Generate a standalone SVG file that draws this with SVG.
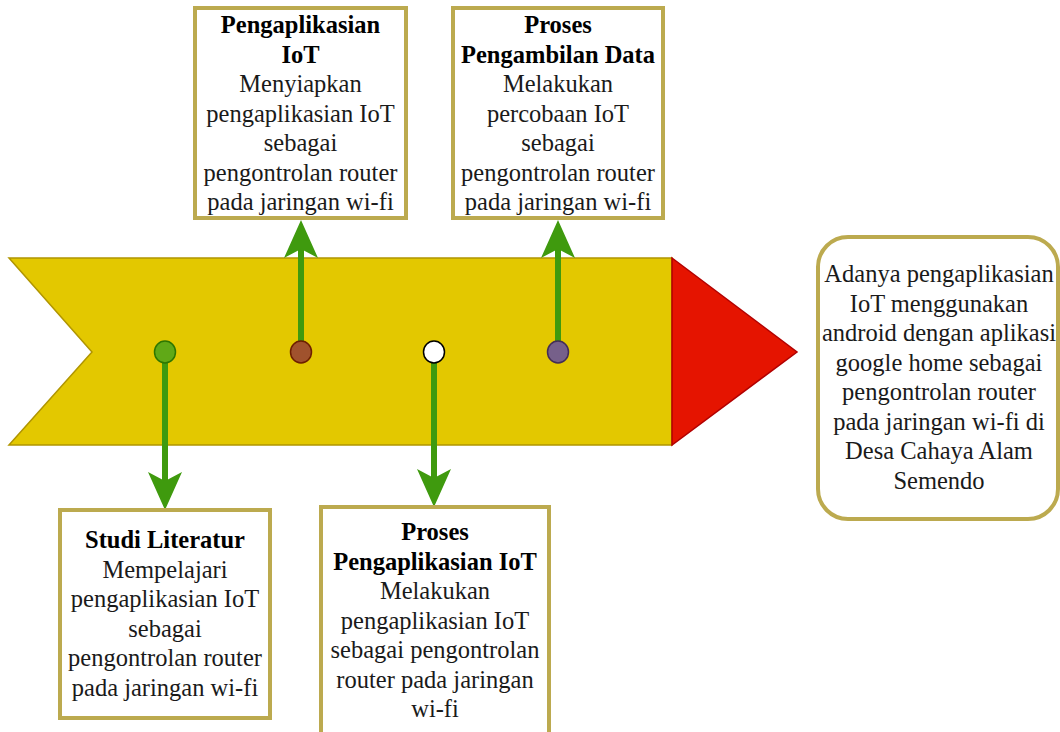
<svg xmlns="http://www.w3.org/2000/svg" width="1060" height="732" viewBox="0 0 1060 732">
<style>
.box{fill:#ffffff;stroke:#bcaa4f;stroke-width:4}
.t{font-family:"Liberation Serif","Times New Roman",serif;font-size:24.5px;text-anchor:middle;fill:#1a1a1a}
.b{font-weight:bold;fill:#000}
.conn{stroke:#3f9a0e;stroke-width:6;fill:none;marker-end:url(#ah)}
</style>
<defs>
<marker id="ah" markerUnits="userSpaceOnUse" viewBox="0 0 38 34" refX="9" refY="17" markerWidth="38" markerHeight="34" orient="auto">
<path d="M0,0 L38,17 L0,34 L9,17 Z" fill="#3f9a0e"/>
</marker>
</defs>
<rect width="1060" height="732" fill="#ffffff"/>
<g id="band">
<polygon points="9,258 672,258 672,445 9,445 92,352" fill="#e3c800" stroke="#b09500" stroke-width="1.5"/>
</g>
<g id="head">
<polygon points="672,258 797,352 672,445" fill="#e51400" stroke="#b20000" stroke-width="1.5"/>
</g>
<g id="connectors">
<line class="conn" x1="165" y1="352" x2="165" y2="481"/>
<line class="conn" x1="301" y1="352" x2="301" y2="249"/>
<line class="conn" x1="434" y1="352" x2="434" y2="478"/>
<line class="conn" x1="558" y1="352" x2="558" y2="249"/>
</g>
<g id="dots">
<ellipse cx="165" cy="352" rx="10.5" ry="11" fill="#60a917" stroke="#2d7600" stroke-width="1.5"/>
<ellipse cx="301" cy="352" rx="10.5" ry="11" fill="#a0522d" stroke="#6d1f00" stroke-width="1.5"/>
<ellipse cx="434" cy="352" rx="10.5" ry="11" fill="#ffffff" stroke="#000000" stroke-width="1.5"/>
<ellipse cx="558" cy="352" rx="10.5" ry="11" fill="#76608a" stroke="#432d57" stroke-width="1.5"/>
</g>
<g id="node-pengaplikasian">
<rect class="box" x="195" y="8" width="211" height="210"/>
<text class="t b" x="300.5" y="33">Pengaplikasian</text>
<text class="t b" x="300.5" y="62.5">IoT</text>
<text class="t" x="300.5" y="92">Menyiapkan</text>
<text class="t" x="300.5" y="121.5">pengaplikasian IoT</text>
<text class="t" x="300.5" y="151">sebagai</text>
<text class="t" x="300.5" y="180.5">pengontrolan router</text>
<text class="t" x="300.5" y="210">pada jaringan wi-fi</text>
</g>
<g id="node-pengambilan">
<rect class="box" x="453" y="8" width="210" height="210"/>
<text class="t b" x="558" y="33">Proses</text>
<text class="t b" x="558" y="62.5">Pengambilan Data</text>
<text class="t" x="558" y="92">Melakukan</text>
<text class="t" x="558" y="121.5">percobaan IoT</text>
<text class="t" x="558" y="151">sebagai</text>
<text class="t" x="558" y="180.5">pengontrolan router</text>
<text class="t" x="558" y="210">pada jaringan wi-fi</text>
</g>
<g id="node-studi">
<rect class="box" x="60" y="510" width="210" height="208"/>
<text class="t b" x="165" y="548">Studi Literatur</text>
<text class="t" x="165" y="577.5">Mempelajari</text>
<text class="t" x="165" y="607">pengaplikasian IoT</text>
<text class="t" x="165" y="636.5">sebagai</text>
<text class="t" x="165" y="666">pengontrolan router</text>
<text class="t" x="165" y="695.5">pada jaringan wi-fi</text>
</g>
<g id="node-proses-pengaplikasian">
<rect class="box" x="321" y="507" width="228" height="240"/>
<text class="t b" x="435" y="540">Proses</text>
<text class="t b" x="435" y="569.5">Pengaplikasian IoT</text>
<text class="t" x="435" y="599">Melakukan</text>
<text class="t" x="435" y="628.5">pengaplikasian IoT</text>
<text class="t" x="435" y="658">sebagai pengontrolan</text>
<text class="t" x="435" y="687.5">router pada jaringan</text>
<text class="t" x="435" y="717">wi-fi</text>
</g>
<g id="node-hasil">
<rect class="box" x="818" y="237" width="240" height="282" rx="30" ry="30"/>
<text class="t" x="939" y="282">Adanya pengaplikasian</text>
<text class="t" x="939" y="311.5">IoT menggunakan</text>
<text class="t" x="939" y="341">android dengan aplikasi</text>
<text class="t" x="939" y="370.5">google home sebagai</text>
<text class="t" x="939" y="400">pengontrolan router</text>
<text class="t" x="939" y="429.5">pada jaringan wi-fi di</text>
<text class="t" x="939" y="459">Desa Cahaya Alam</text>
<text class="t" x="939" y="488.5">Semendo</text>
</g>
</svg>
